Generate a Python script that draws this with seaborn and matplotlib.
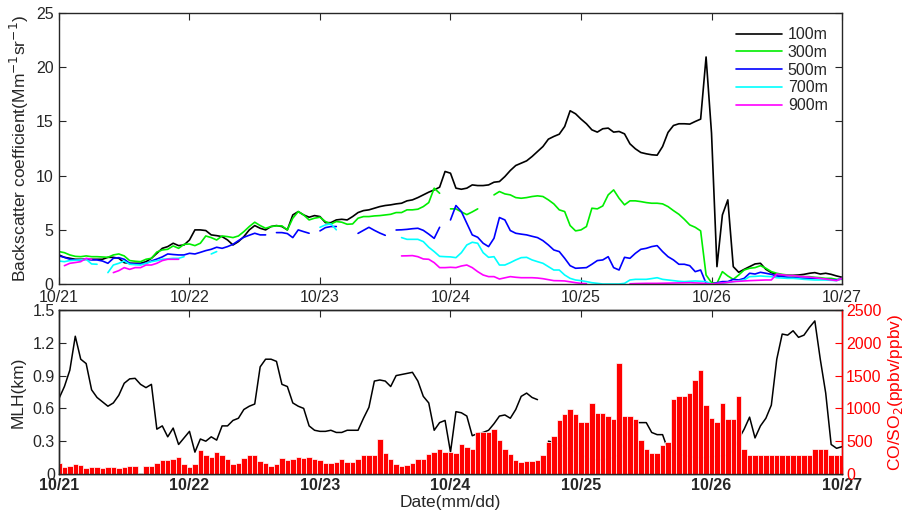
import numpy as np
import pandas as pd
import matplotlib
matplotlib.use('Agg')
import matplotlib.pyplot as plt
import seaborn as sns
from matplotlib.lines import Line2D

nan = np.nan

# hourly data, 10/21 00:00 to 10/27 00:00
day_labels = ['10/21', '10/22', '10/23', '10/24', '10/25', '10/26', '10/27']
heights = ['100m', '300m', '500m', '700m', '900m']

b100 = [2.68, 2.46, 2.37, 2.28, 2.28, 2.28, 2.28, 2.28, 2.28, 2.46,
        2.46, 2.37, 1.97, 1.91, 1.91, 1.91, 2.06, 2.37, 2.83, 3.29,
        3.45, 3.76, 3.54, 3.60, 4.06, 4.99, 4.99, 4.93, 4.53, 4.46,
        4.37, 4.06, 3.60, 3.91, 4.37, 4.99, 5.39, 5.14, 4.99, 5.30,
        5.39, 5.30, 4.99, 6.37, 6.68, 6.37, 6.16, 6.31, 6.22, 5.66,
        5.66, 5.91, 5.97, 5.91, 6.22, 6.59, 6.77, 6.84, 6.99, 7.14,
        7.24, 7.30, 7.39, 7.45, 7.67, 7.76, 7.97, 8.22, 8.47, 8.68,
        8.93, 10.38, 10.22, 8.84, 8.74, 8.84, 9.14, 9.08, 9.08, 9.14,
        9.39, 9.45, 9.91, 10.47, 10.93, 11.15, 11.36, 11.76, 12.22, 12.68,
        13.36, 13.61, 13.82, 14.53, 15.98, 15.70, 15.21, 14.78, 14.22, 14.01,
        14.32, 14.38, 14.01, 14.07, 13.85, 12.93, 12.47, 12.13, 12.01, 11.92,
        11.88, 12.68, 13.98, 14.62, 14.78, 14.78, 14.75, 14.99, 15.21, 20.94,
        13.92, 1.60, 6.37, 7.76, 1.60, 1.08, 1.35, 1.60, 1.85, 1.91,
        1.35, 1.05, 0.89, 0.83, 0.80, 0.80, 0.83, 0.89, 0.99, 1.05,
        0.92, 0.99, 0.89, 0.74, 0.62]

b300 = [2.99, 2.89, 2.68, 2.55, 2.52, 2.59, 2.52, 2.52, 2.49, 2.46,
        2.68, 2.77, 2.59, 2.16, 2.10, 2.06, 2.28, 2.37, 2.95, 3.14,
        3.20, 3.51, 3.29, 3.66, 3.69, 3.54, 3.76, 4.43, 4.28, 4.06,
        4.43, 4.37, 4.28, 4.43, 4.83, 5.30, 5.70, 5.39, 5.14, 5.30,
        5.36, 5.36, 4.99, 6.07, 6.68, 6.37, 5.91, 6.07, 6.16, 5.76,
        5.54, 5.76, 5.70, 5.51, 5.54, 6.07, 6.22, 6.22, 6.28, 6.31,
        6.37, 6.43, 6.59, 6.59, 6.84, 6.84, 6.90, 7.14, 7.51, 8.84,
        8.37, nan, 6.93, 6.93, 6.65, 6.40, 6.65, 6.93, nan, nan,
        8.22, 8.53, 8.31, 8.22, 7.97, 7.91, 7.97, 8.07, 8.13, 8.07,
        7.76, 7.39, 6.84, 6.68, 5.39, 4.90, 4.99, 5.30, 6.99, 6.93,
        7.20, 8.22, 8.68, 7.91, 7.30, 7.67, 7.67, 7.60, 7.51, 7.45,
        7.45, 7.39, 7.14, 6.77, 6.43, 5.97, 5.45, 5.23, 4.90, 0.83,
        0.12, 0.06, 1.14, 0.74, 0.43, 0.83, 1.29, 1.45, 1.51, 1.69,
        1.45, 1.14, 0.99, 0.89, 0.83, 0.74, 0.74, 0.68, 0.68, 0.62,
        0.58, 0.52, 0.52, 0.43, 0.43]

b500 = [2.59, 2.46, 2.28, 2.22, 2.22, 2.28, 2.22, 2.22, 2.12, 1.91,
        2.37, 2.43, 2.28, 1.91, 1.85, 1.85, 1.91, 2.12, 2.30, 2.50,
        2.77, 2.72, 2.68, 2.68, 2.83, 2.77, 2.92, 3.08, 3.20, 3.39,
        3.29, 3.45, 3.66, 4.00, 4.31, 4.50, 4.68, 4.53, 4.53, nan,
        4.74, 4.74, 4.65, 4.28, 4.99, 4.83, 4.68, nan, 4.90, 5.20,
        5.30, 5.30, nan, nan, nan, 4.67, 4.95, 5.23, 4.95, 4.70,
        4.49, nan, 4.98, 5.00, 5.04, 5.10, 5.14, 4.95, 4.60, 4.21,
        5.23, nan, 5.91, 7.24, 6.68, 5.60, 4.53, 4.31, 3.76, 3.45,
        4.22, 6.13, 5.91, 4.93, 4.68, 4.60, 4.53, 4.40, 4.28, 4.00,
        3.60, 3.14, 2.99, 2.37, 1.69, 1.45, 1.48, 1.51, 1.82, 2.16,
        2.22, 2.52, 1.51, 1.29, 2.46, 2.37, 2.83, 3.20, 3.29, 3.45,
        3.54, 2.99, 2.52, 2.22, 1.82, 1.82, 1.69, 1.14, 1.29, 0.06,
        0.00, 0.12, 0.22, 0.22, 0.43, 0.37, 0.52, 0.99, 0.92, 1.08,
        0.99, 0.89, 0.74, 0.68, 0.62, 0.58, 0.55, 0.52, 0.52, 0.52,
        0.48, 0.43, 0.40, 0.37, 0.49]

b700 = [2.12, 2.06, 2.16, 2.19, 2.22, 2.28, 1.85, 1.82, nan, 1.05,
        1.75, 1.91, 2.12, 1.82, 1.78, 1.75, 1.91, 2.06, 2.15, 2.28,
        2.32, 2.37, 2.37, 2.52, nan, nan, nan, nan, 2.77, 2.99,
        nan, nan, nan, nan, nan, nan, nan, nan, nan, nan,
        nan, nan, nan, nan, nan, nan, nan, nan, 5.23, 5.45,
        5.55, 5.00, nan, nan, nan, nan, nan, nan, nan, nan,
        nan, nan, nan, 4.28, 4.12, 4.12, 4.12, 3.91, 3.39, 2.99,
        2.55, 2.52, 2.50, 2.43, 2.89, 3.60, 3.85, 3.76, 2.89, 2.46,
        2.52, 1.75, 1.75, 1.97, 2.22, 2.43, 2.46, 2.22, 2.06, 1.91,
        1.60, 1.29, 1.29, 0.83, 0.52, 0.37, 0.31, 0.22, 0.12, 0.06,
        0.00, 0.00, 0.00, 0.00, 0.06, 0.37, 0.43, 0.43, 0.43, 0.50,
        0.58, 0.43, 0.37, 0.31, 0.25, 0.22, 0.25, 0.28, 0.25, 0.22,
        0.00, 0.03, 0.06, 0.15, 0.22, 0.30, 0.37, 0.68, 0.70, 0.74,
        0.70, 0.68, 0.58, 0.55, 0.52, 0.52, 0.48, 0.43, 0.40, 0.37,
        0.37, 0.37, 0.34, 0.31, 0.52]

b900 = [nan, 1.69, 1.91, 1.98, 2.06, 2.37, 2.28, nan, nan, nan,
        1.05, 1.23, 1.51, 1.35, 1.51, 1.51, 1.75, 1.75, 1.91, 2.16,
        2.28, 2.28, 2.28, nan, nan, nan, nan, nan, nan, nan,
        nan, nan, nan, nan, nan, nan, nan, nan, nan, nan,
        nan, nan, nan, nan, nan, nan, nan, nan, nan, nan,
        nan, nan, nan, nan, nan, nan, nan, nan, nan, nan,
        nan, nan, nan, 2.59, 2.60, 2.62, 2.52, 2.31, 2.28, 1.97,
        1.51, 1.51, 1.54, 1.51, 1.66, 1.75, 1.51, 1.14, 0.83, 0.68,
        0.68, 0.46, 0.57, 0.68, 0.62, 0.58, 0.58, 0.58, 0.55, 0.49,
        0.40, 0.31, 0.30, 0.28, 0.20, 0.12, 0.06, 0.03, nan, nan,
        nan, nan, nan, nan, nan, 0.02, 0.04, 0.05, 0.06, 0.06,
        0.06, 0.07, 0.08, 0.09, 0.10, 0.11, 0.12, 0.10, 0.08, 0.05,
        0.00, 0.05, 0.10, 0.15, 0.22, 0.25, 0.28, 0.31, 0.33, 0.35,
        0.37, 0.37, 0.92, 0.85, 0.80, 0.77, 0.72, 0.68, 0.63, 0.58,
        0.52, 0.45, 0.38, 0.31, 0.52]

mlh = [0.69, 0.80, 0.95, 1.26, 1.05, 1.01, 0.77, 0.70, 0.66, 0.62,
       0.65, 0.72, 0.83, 0.87, 0.875, 0.82, 0.79, 0.82, 0.41, 0.44,
       0.34, 0.42, 0.27, 0.33, 0.39, 0.20, 0.32, 0.30, 0.34, 0.31,
       0.44, 0.44, 0.49, 0.51, 0.59, 0.62, 0.64, 0.98, 1.05, 1.05,
       1.03, 0.82, 0.80, 0.65, 0.62, 0.60, 0.44, 0.40, 0.39, 0.39,
       0.40, 0.38, 0.38, 0.40, 0.40, 0.40, 0.51, 0.61, 0.85, 0.86,
       0.85, 0.80, 0.90, 0.91, 0.92, 0.93, 0.85, 0.71, 0.65, 0.40,
       0.47, 0.49, 0.20, 0.57, 0.56, 0.53, 0.35, 0.37, 0.38, 0.40,
       0.46, 0.53, 0.54, 0.51, 0.59, 0.71, 0.74, 0.70, 0.68, nan,
       0.30, 0.29, 0.27, 0.25, 0.22, 0.20, 0.18, 0.15, 0.13, 0.13,
       0.13, 0.14, 0.15, 0.18, 0.30, 0.42, 0.47, 0.47, 0.47, 0.38,
       0.36, 0.36, 0.22, 0.19, 0.18, 0.17, 0.16, 0.15, 0.15, 0.15,
       0.16, 0.16, 0.17, 0.17, 0.22, 0.32, 0.41, 0.52, 0.33, 0.44,
       0.51, 0.63, 1.05, 1.28, 1.27, 1.31, 1.25, 1.27, 1.34, 1.40,
       1.05, 0.74, 0.27, 0.235, 0.25]

co_so2 = [173, 112, 122, 152, 135, 94, 107, 107, 94, 107,
          107, 97, 107, 115, 122, 0, 122, 122, 173, 213,
          213, 229, 262, 158, 107, 152, 366, 290, 262, 335,
          290, 229, 152, 170, 242, 290, 290, 198, 166, 122,
          152, 242, 213, 234, 262, 247, 262, 226, 213, 170,
          170, 185, 234, 185, 185, 234, 290, 290, 290, 536,
          320, 229, 152, 122, 130, 170, 229, 229, 308, 333,
          376, 340, 335, 325, 462, 411, 376, 640, 640, 640,
          686, 518, 381, 305, 213, 183, 198, 198, 213, 290,
          488, 579, 823, 915, 991, 915, 793, 793, 1082, 930,
          930, 884, 838, 1692, 884, 884, 838, 518, 381, 320,
          320, 442, 488, 1143, 1189, 1189, 1235, 1433, 1585, 1052,
          854, 793, 1082, 838, 838, 1189, 381, 290, 290, 290,
          290, 290, 290, 290, 290, 290, 290, 290, 290, 381,
          381, 381, 290, 290, 290]

hours = np.arange(145)
t = hours / 24.0

colors = {'100m': '#000000', '300m': '#00ee00', '500m': '#0000ff',
          '700m': '#00ffff', '900m': '#ff00ff'}


def to_segments(vals, name):
    v = np.array(vals, dtype=float)
    seg = np.cumsum(np.isnan(v))
    d = pd.DataFrame({'t': t, 'v': v, 'seg': seg, 'height': name})
    return d.dropna()


df = pd.concat([to_segments(s, n) for s, n in
                zip([b100, b300, b500, b700, b900], heights)])
df_mlh = to_segments(mlh, 'MLH')

sns.set_style('ticks')
plt.rcParams['font.family'] = ['Liberation Sans', 'DejaVu Sans']
plt.rcParams['font.size'] = 11.5
plt.rcParams['axes.linewidth'] = 1.0

fig = plt.figure(figsize=(9.1, 5.19), dpi=100)
ax1 = fig.add_axes([0.0648, 0.4528, 0.8605, 0.5222])
ax2 = fig.add_axes([0.0648, 0.0867, 0.8605, 0.316])

# top panel
sns.lineplot(data=df, x='t', y='v', hue='height', units='seg', estimator=None,
             palette=colors, hue_order=heights, linewidth=1.2, sort=False,
             legend=False, ax=ax1)
ax1.set_xlim(0, 6)
ax1.set_ylim(0, 25)
ax1.set_xticks(range(7))
ax1.set_xticklabels(day_labels)
ax1.set_yticks([0, 5, 10, 15, 20, 25])
ax1.set_xlabel('')
ax1.set_ylabel('Backscatter coefficient(Mm$^{-1}$sr$^{-1}$)', fontsize=12.5, labelpad=3)
ax1.tick_params(direction='in', top=True, right=True, length=5, labelsize=11.5, pad=4)
handles = [Line2D([], [], color=colors[h], lw=1.2) for h in heights]
ax1.legend(handles, heights, loc='upper right', frameon=False, handlelength=2.9,
           labelspacing=0.17, handletextpad=0.35, fontsize=11.5,
           borderaxespad=0.5)

# bottom panel
sns.lineplot(data=df_mlh, x='t', y='v', units='seg', estimator=None,
             color='black', linewidth=1.1, sort=False, ax=ax2)
ax2.set_xlim(0, 6)
ax2.set_ylim(0, 1.5)
ax2.set_yticks([0, 0.3, 0.6, 0.9, 1.2, 1.5])
ax2.set_yticklabels(['0', '0.3', '0.6', '0.9', '1.2', '1.5'])
ax2.set_xticks(range(7))
ax2.set_xticklabels(day_labels, fontweight='bold')
ax2.set_xlabel('Date(mm/dd)', fontsize=12.5, labelpad=1)
ax2.set_ylabel('MLH(km)', fontsize=12.5, labelpad=5)
ax2.tick_params(direction='in', top=True, length=5, labelsize=11.5, pad=3)

ax3 = ax2.twinx()
sns.barplot(x=t, y=co_so2, native_scale=True, width=1, color='#ff0000',
            saturation=1, edgecolor='white', linewidth=0.5, errorbar=None, ax=ax3)
ax3.set_xlim(0, 6)
ax3.set_ylim(0, 2500)
ax3.set_yticks([0, 500, 1000, 1500, 2000, 2500])
ax3.set_ylabel('CO/SO$_2$(ppbv/ppbv)', color='red', fontsize=12.5, labelpad=3)
ax3.tick_params(axis='y', direction='in', colors='red', length=5, labelsize=11.5, pad=3)
ax3.spines['right'].set_color('red')
ax3.xaxis.set_visible(False)

fig.savefig('out.png', dpi=100)
